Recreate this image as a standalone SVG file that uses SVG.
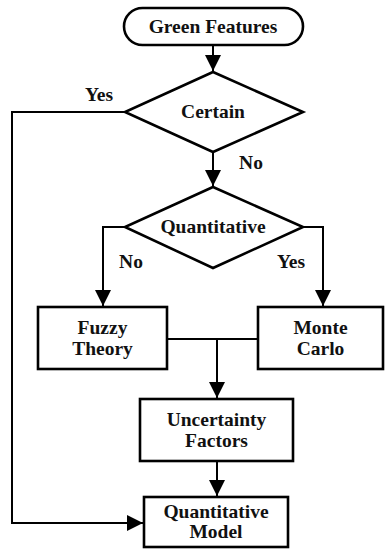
<svg xmlns="http://www.w3.org/2000/svg" width="386" height="549" viewBox="0 0 386 549">
<style>
.s{fill:#fff;stroke:#000;stroke-width:2.6}
.t{font-family:"Liberation Serif","Times New Roman",serif;font-weight:bold;font-size:19.5px;text-anchor:middle;fill:#111}
.c{fill:none;stroke:#000;stroke-width:2}
</style>
<defs>
<marker id="ah" markerUnits="userSpaceOnUse" markerWidth="16" markerHeight="20" viewBox="0 0 16 20" refX="16" refY="8" orient="auto">
<path d="M0,0 L16,8 L0,16 Z" fill="#000"/>
</marker>
</defs>
<rect width="386" height="549" fill="#fff"/>
<g id="connectors">
<path class="c" d="M213,45 V71" marker-end="url(#ah)"/>
<path class="c" d="M213,152 V186" marker-end="url(#ah)"/>
<path class="c" d="M125,112 H12 V523 H143" marker-end="url(#ah)"/>
<path class="c" d="M125,227 H103 V306" marker-end="url(#ah)"/>
<path class="c" d="M303,227 H323 V306" marker-end="url(#ah)"/>
<path class="c" d="M167,339 H258"/>
<path class="c" d="M217,339 V398" marker-end="url(#ah)"/>
<path class="c" d="M217,461 V496" marker-end="url(#ah)"/>
<text class="t" x="99" y="101">Yes</text>
<text class="t" x="251" y="169">No</text>
<text class="t" x="131" y="268">No</text>
<text class="t" x="291" y="268">Yes</text>
</g>
<g id="green-features">
<rect class="s" x="124" y="8" width="179" height="37" rx="18.5"/>
<text class="t" x="213" y="33">Green Features</text>
</g>
<g id="certain">
<polygon class="s" points="213,72 303,112 213,152 125,112"/>
<text class="t" x="213" y="118">Certain</text>
</g>
<g id="quantitative">
<polygon class="s" points="213,187 303,227 213,268 125,227"/>
<text class="t" x="213" y="233">Quantitative</text>
</g>
<g id="fuzzy-theory">
<rect class="s" x="38" y="307" width="129" height="62"/>
<text class="t" x="102.5" y="334">Fuzzy</text>
<text class="t" x="102.5" y="355">Theory</text>
</g>
<g id="monte-carlo">
<rect class="s" x="258" y="307" width="125" height="62"/>
<text class="t" x="320.5" y="334">Monte</text>
<text class="t" x="320.5" y="355">Carlo</text>
</g>
<g id="uncertainty-factors">
<rect class="s" x="140" y="399" width="153" height="62"/>
<text class="t" x="216.5" y="426">Uncertainty</text>
<text class="t" x="216.5" y="447">Factors</text>
</g>
<g id="quantitative-model">
<rect class="s" x="144" y="497" width="144" height="50"/>
<text class="t" x="216" y="518">Quantitative</text>
<text class="t" x="216" y="538">Model</text>
</g>
</svg>
